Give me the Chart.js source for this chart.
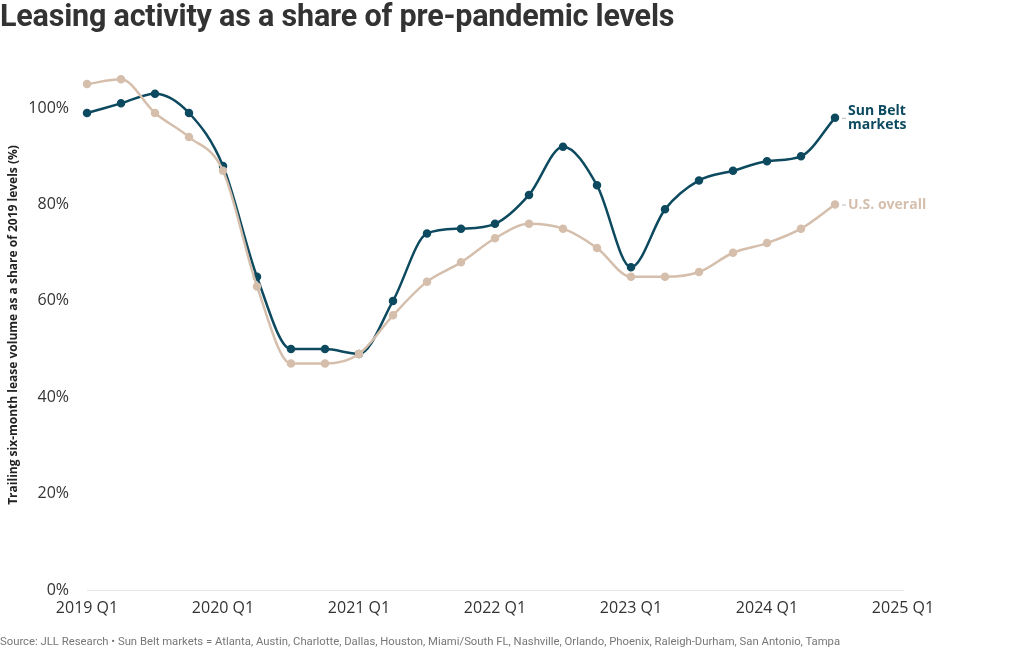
<!DOCTYPE html>
<html>
<head>
<meta charset="utf-8">
<script src="https://cdn.jsdelivr.net/npm/chart.js@4/dist/chart.umd.min.js"></script>
<style>
  body { margin: 0; background: #fff; font-family: Roboto, "Noto Sans", sans-serif; }
  #wrap { position: relative; width: 1020px; height: 650px; }
  #title { position: absolute; left: 0; top: -2px; font-size: 30.5px; font-weight: bold; color: #333; letter-spacing: -0.2px; }
  #note { position: absolute; left: 0; top: 635px; font-size: 11.3px; color: #777; white-space: nowrap; }
  canvas { position: absolute; left: 0; top: 0; }
</style>
</head>
<body>
<div id="wrap">
  <canvas id="myChart" width="1020" height="650"></canvas>
  <div id="title">Leasing activity as a share of pre-pandemic levels</div>
  <div id="note">Source: JLL Research • Sun Belt markets = Atlanta, Austin, Charlotte, Dallas, Houston, Miami/South FL, Nashville, Orlando, Phoenix, Raleigh-Durham, San Antonio, Tampa</div>
</div>
<script>
// DATA
let quarters = [
  "2019 Q1", "2019 Q2", "2019 Q3", "2019 Q4",
  "2020 Q1", "2020 Q2", "2020 Q3", "2020 Q4",
  "2021 Q1", "2021 Q2", "2021 Q3", "2021 Q4",
  "2022 Q1", "2022 Q2", "2022 Q3", "2022 Q4",
  "2023 Q1", "2023 Q2", "2023 Q3", "2023 Q4",
  "2024 Q1", "2024 Q2", "2024 Q3", "2024 Q4",
  "2025 Q1"
];
let sunBelt = [99, 101, 103, 99, 88, 65, 50, 50, 49, 60, 74, 75, 76, 82, 92, 84, 67, 79, 85, 87, 89, 90, 98];
let usOverall = [105, 106, 99, 94, 87, 63, 47, 47, 49, 57, 64, 68, 73, 76, 75, 71, 65, 65, 66, 70, 72, 75, 80];
let yTicks = [0, 20, 40, 60, 80, 100];

let sunColor = "#0d4a5f";
let usColor = "#d5bfac";
let tickFont = "'Open Sans', 'Noto Sans', sans-serif";

// end-of-line labels
let endLabels = {
  id: "endLabels",
  afterDatasetsDraw(chart) {
    let ctx = chart.ctx;
    chart.data.datasets.forEach((ds, i) => {
      let meta = chart.getDatasetMeta(i);
      let pt = meta.data[meta.data.length - 1];
      ctx.save();
      ctx.strokeStyle = "#bbb";
      ctx.lineWidth = 1;
      ctx.beginPath();
      ctx.moveTo(pt.x + 7, pt.y + 0.5);
      ctx.lineTo(pt.x + 11, pt.y + 0.5);
      ctx.stroke();
      ctx.fillStyle = ds.borderColor;
      ctx.font = "bold 14px 'Open Sans', 'Noto Sans', sans-serif";
      ctx.textBaseline = "middle";
      let lines = ds.endText;
      let top = pt.y - (lines.length - 1) * 7;
      lines.forEach((t, k) => ctx.fillText(t, pt.x + 13, top + k * 14));
      ctx.restore();
    });
  }
};

let ctx = document.getElementById("myChart").getContext("2d");
let chart = new Chart(ctx, {
  type: "line",
  data: {
    labels: quarters,
    datasets: [
      {
        label: "U.S. overall",
        endText: ["U.S. overall"],
        data: usOverall,
        borderColor: usColor,
        backgroundColor: usColor,
        borderWidth: 2.5,
        pointRadius: 3,
        cubicInterpolationMode: "monotone"
      },
      {
        label: "Sun Belt markets",
        endText: ["Sun Belt", "markets"],
        data: sunBelt,
        borderColor: sunColor,
        backgroundColor: sunColor,
        borderWidth: 2.5,
        pointRadius: 3,
        cubicInterpolationMode: "monotone"
      }
    ]
  },
  options: {
    responsive: false,
    animation: false,
    layout: { padding: { left: 0, right: 117, top: 60, bottom: 0 } },
    plugins: {
      legend: { display: false },
      tooltip: { enabled: false }
    },
    scales: {
      x: {
        offset: false,
        grid: { display: false },
        border: { display: true, color: "#e6e6e6", width: 1 },
        ticks: {
          autoSkip: false,
          maxRotation: 0,
          padding: 1,
          color: "#333",
          font: { family: tickFont, size: 16 },
          callback: function (v) {
            let l = this.getLabelForValue(v);
            return l.endsWith("Q1") ? l : null;
          }
        },
        afterFit: s => { s.height = 60; }
      },
      y: {
        min: 0,
        max: 110,
        grid: { display: false },
        border: { display: false },
        afterBuildTicks: s => { s.ticks = yTicks.map(v => ({ value: v })); },
        ticks: {
          padding: 10,
          color: "#333",
          font: { family: tickFont, size: 16 },
          callback: v => v + "%"
        },
        title: {
          display: true,
          text: "Trailing six-month lease volume as a share of 2019 levels (%)",
          color: "#222",
          font: { family: "'Open Sans', 'Noto Sans', sans-serif", size: 12, weight: "bold" },
          padding: { top: 6, bottom: 0 }
        },
        afterFit: s => { s.width = 87; }
      }
    }
  },
  plugins: [endLabels]
});
</script>
</body>
</html>
